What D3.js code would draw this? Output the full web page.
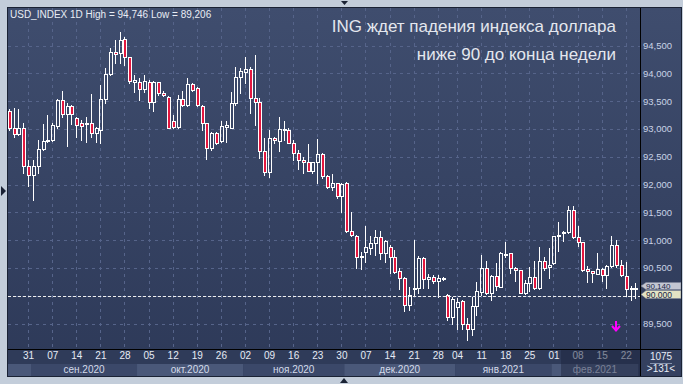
<!DOCTYPE html>
<html>
<head>
<meta charset="utf-8">
<script src="https://cdn.jsdelivr.net/npm/d3@7"></script>
<style>
  body { margin: 0; background: #c3cdda; }
  svg { display: block; font-family: "Liberation Sans", Arial, sans-serif; }
</style>
</head>
<body>
<svg id="chart" width="683" height="384"></svg>
<script>
// daily candles, 25.08.2020 - 24.02.2021 (131 bars)
const firstDay = "2020-08-25";
const lastDay = "2021-02-24";
const holidays = ["2021-01-01"];

const opens = [93.33,93.01,92.90,93.01,92.33,92.17,92.33,92.63,92.78,92.80,
  93.05,93.52,93.26,93.41,93.19,93.10,93.10,93.11,92.92,92.98,
  93.53,93.99,94.38,94.36,94.61,94.29,93.85,93.85,93.71,93.85,
  93.48,93.84,93.64,93.58,93.14,93.04,93.53,93.43,93.80,93.73,
  93.42,93.10,92.65,92.93,92.78,93.04,93.02,93.46,93.93,94.02,
  94.07,93.55,93.48,92.60,92.23,92.84,92.79,92.98,92.98,92.74,
  92.57,92.44,92.40,92.25,92.40,92.54,92.15,91.95,92.02,91.80,
  92.02,91.17,91.08,90.70,90.79,90.86,90.94,91.05,90.77,90.87,
  90.69,90.44,90.31,89.83,90.13,90.13,90.67,90.30,90.34,90.27,
  90.31,90.01,89.61,89.80,89.90,89.50,89.41,89.81,90.07,90.50,
  90.04,90.35,90.16,90.74,90.76,90.49,90.46,90.05,90.22,90.34,
  90.13,90.62,90.51,90.58,91.07,91.13,91.14,91.54,91.05,90.96,
  90.48,90.44,90.39,90.48,90.37,90.54,90.91,90.55,90.35,90.14,
  90.14];
const highs = [93.35,93.37,93.35,93.10,92.44,92.44,92.80,93.08,93.25,93.10,
  93.53,93.69,93.46,93.43,93.22,93.16,93.22,93.63,93.04,93.79,
  94.09,94.45,94.60,94.746,94.65,94.30,93.97,93.91,93.97,93.88,
  93.86,93.85,93.68,93.59,93.25,93.61,93.69,93.91,93.82,93.76,
  93.43,93.11,92.95,92.95,93.14,93.14,93.67,94.11,94.09,94.30,
  94.12,94.33,93.55,92.83,92.98,92.85,93.21,93.15,93.01,92.80,
  92.62,92.50,92.73,92.41,92.81,92.56,92.17,92.19,92.03,92.02,
  92.05,91.50,91.09,90.79,91.25,91.07,91.19,91.16,91.01,90.91,
  90.82,90.50,90.33,90.15,91.01,90.72,90.69,90.39,90.37,90.37,
  90.34,90.03,89.98,89.95,89.93,89.60,89.98,90.25,90.73,90.62,
  90.37,90.58,90.79,90.97,90.77,90.51,90.47,90.28,90.51,90.63,
  90.88,90.69,90.86,91.08,91.32,91.17,91.62,91.62,91.25,90.97,
  90.54,90.45,90.77,90.49,90.55,91.07,91.00,90.65,90.60,90.17,
  90.23];
const lows = [92.98,92.86,92.89,92.20,91.98,91.72,92.20,92.62,92.76,92.79,
  93.01,93.22,92.70,93.08,92.86,92.80,92.77,92.86,92.76,92.75,
  93.46,93.97,94.19,94.19,94.15,93.82,93.67,93.52,93.67,93.37,
  93.33,93.61,93.59,93.01,93.01,93.02,93.41,93.41,93.68,93.41,
  92.98,92.46,92.62,92.72,92.76,92.77,93.01,93.43,93.65,93.82,
  93.29,93.07,92.47,92.17,92.13,92.74,92.61,92.80,92.74,92.44,
  92.27,92.21,92.25,92.20,92.02,92.11,91.93,91.90,91.75,91.50,
  91.15,91.07,90.49,90.48,90.60,90.75,90.73,90.66,90.61,90.40,
  90.40,90.12,89.73,89.74,90.00,90.04,90.13,90.13,90.22,89.97,
  90.28,89.56,89.49,89.41,89.41,89.206,89.29,89.65,90.01,90.03,
  89.92,90.10,90.15,90.70,90.40,90.27,90.04,90.03,90.09,90.12,
  90.12,90.47,90.32,90.57,90.80,90.98,91.12,91.03,90.90,90.45,
  90.25,90.25,90.39,90.27,90.13,90.52,90.52,90.36,89.99,89.93,
  89.95];
const closes = [93.01,92.90,93.01,92.33,92.17,92.33,92.63,92.78,92.80,93.07,
  93.52,93.26,93.41,93.26,93.07,93.05,93.11,92.92,93.01,93.53,
  93.99,94.38,94.34,94.60,94.29,93.87,93.88,93.71,93.86,93.48,
  93.85,93.64,93.61,93.01,93.04,93.53,93.43,93.80,93.70,93.43,
  93.10,92.65,92.93,92.74,93.06,93.07,93.46,93.93,94.05,94.07,
  93.55,93.48,92.60,92.23,92.84,92.80,92.99,92.99,92.75,92.57,
  92.44,92.40,92.25,92.40,92.54,92.15,91.95,92.02,91.80,92.01,
  91.17,91.09,90.69,90.71,90.87,90.94,91.05,90.76,90.98,90.69,
  90.43,90.31,89.83,90.01,90.14,90.67,90.30,90.33,90.27,90.31,
  90.32,89.61,89.94,89.88,89.49,89.41,89.81,90.09,90.50,90.04,
  90.35,90.17,90.76,90.75,90.49,90.46,90.05,90.23,90.34,90.13,
  90.63,90.49,90.55,91.07,91.10,91.14,91.54,91.05,90.96,90.47,
  90.44,90.40,90.48,90.37,90.54,90.92,90.56,90.37,90.12,90.14,
  90.14];

const priceTicks = [89.5, 90, 90.5, 91, 91.5, 92, 92.5, 93, 93.5, 94, 94.5];
const levelPrice = 90.0;
const signal = { bar: 126, price: 89.46 };
const monthNames = ["янв.", "фев.", "мар.", "апр.", "мая", "июн.", "июл.", "авг.", "сен.", "окт.", "ноя.", "дек."];
const headerText = "USD_INDEX 1D High = 94,746 Low = 89,206";
const titleLines = ["ING ждет падения индекса доллара", "ниже 90 до конца недели"];
const barInfo = ["1075", ">131<"];

// trading days
const parse = d3.timeParse("%Y-%m-%d");
const fmtDay = d3.timeFormat("%Y-%m-%d");
const dates = d3.timeDay.range(parse(firstDay), d3.timeDay.offset(parse(lastDay), 1))
  .filter(d => d.getDay() !== 0 && d.getDay() !== 6 && !holidays.includes(fmtDay(d)));

const bars = dates.map((d, i) => ({ date: d, o: opens[i], h: highs[i], l: lows[i], c: closes[i] }));

const svg = d3.select("#chart");
const plotLeft = 8, plotRight = 640, plotTop = 8, plotBottom = 349, axisBottom = 376, panelRight = 681;

const x = d3.scaleBand().domain(dates).range([6.9, 638.3]);
const y = d3.scaleLinear().domain([89.5, 94.5]).range([323.5, 45.5]);
const cx = d => Math.round(x(d) + x.bandwidth() / 2 - 0.5) + 0.5;
const py = v => Math.round(y(v)) + 0.5;
const priceFmt = v => d3.format(".3f")(v).replace(".", ",");

// backgrounds
const defs = svg.append("defs");
const grad = defs.append("linearGradient").attr("id", "bg").attr("x1", 0).attr("x2", 0).attr("y1", 0).attr("y2", 1);
grad.append("stop").attr("offset", "0%").attr("stop-color", "#3f4d6e");
grad.append("stop").attr("offset", "100%").attr("stop-color", "#2d3958");
defs.append("clipPath").attr("id", "plotclip").append("rect")
  .attr("x", plotLeft).attr("y", plotTop).attr("width", plotRight - plotLeft).attr("height", plotBottom - plotTop);

svg.append("rect").attr("width", 683).attr("height", 384).attr("fill", "#c3cdda");
svg.append("rect").attr("x", plotLeft).attr("y", plotTop).attr("width", panelRight - plotLeft).attr("height", axisBottom - plotTop)
  .attr("fill", "url(#bg)");
svg.append("rect").attr("x", plotLeft).attr("y", plotBottom).attr("width", plotRight - plotLeft).attr("height", axisBottom - plotBottom)
  .attr("fill", "#2f3b59");
svg.append("rect").attr("x", plotRight).attr("y", plotBottom).attr("width", panelRight - plotRight).attr("height", axisBottom - plotBottom)
  .attr("fill", "#34405f");

// gridlines
const mondays = dates.filter(d => d.getDay() === 1);
const grid = svg.append("g").attr("stroke", "#56648a").attr("stroke-dasharray", "3,4").attr("stroke-width", 1);
grid.selectAll(".hg").data(priceTicks).join("line")
  .attr("x1", plotLeft).attr("x2", plotRight).attr("y1", d => py(d)).attr("y2", d => py(d));
grid.selectAll(".vg").data(mondays).join("line")
  .attr("x1", d => cx(d)).attr("x2", d => cx(d)).attr("y1", plotTop).attr("y2", plotBottom);

// candles
const plot = svg.append("g").attr("clip-path", "url(#plotclip)");
const candle = plot.selectAll("g.candle").data(bars).join("g").attr("class", "candle");
candle.append("line")
  .attr("x1", d => cx(d.date)).attr("x2", d => cx(d.date))
  .attr("y1", d => Math.round(y(d.h))).attr("y2", d => Math.round(y(Math.max(d.o, d.c))))
  .attr("stroke", "#ffffff");
candle.append("line")
  .attr("x1", d => cx(d.date)).attr("x2", d => cx(d.date))
  .attr("y1", d => Math.round(y(Math.min(d.o, d.c)))).attr("y2", d => Math.round(y(d.l)) + 1)
  .attr("stroke", "#ffffff");
candle.append("rect")
  .attr("x", d => cx(d.date) - 1)
  .attr("y", d => Math.round(y(Math.max(d.o, d.c))) + 0.5)
  .attr("width", 3)
  .attr("height", d => Math.max(1, Math.round(y(Math.min(d.o, d.c))) - Math.round(y(Math.max(d.o, d.c)))))
  .attr("fill", d => d.c < d.o ? "#e3173f" : "none")
  .attr("stroke", "#ffffff").attr("stroke-width", 1);

// 90,000 level
svg.append("line").attr("x1", plotLeft).attr("x2", plotRight).attr("y1", py(levelPrice)).attr("y2", py(levelPrice))
  .attr("stroke", "#eeeeee").attr("stroke-dasharray", "3,2");

// signal arrow
const ax = cx(dates[signal.bar]) - 0.5, ay = Math.round(y(signal.price));
const arrow = svg.append("g").attr("stroke", "#ff00ff").attr("stroke-width", 2).attr("fill", "none");
arrow.append("line").attr("x1", ax).attr("x2", ax).attr("y1", ay - 5).attr("y2", ay + 4);
arrow.append("path").attr("d", `M${ax - 4},${ay} L${ax},${ay + 4.5} L${ax + 4},${ay}`);

// header and title
svg.append("text").attr("x", 10).attr("y", 18).attr("font-size", 10).attr("fill", "#e8ecf4").text(headerText);
svg.selectAll(".title").data(titleLines).join("text")
  .attr("x", 616).attr("y", (d, i) => 31.5 + i * 28.5)
  .attr("text-anchor", "end").attr("font-size", 17).attr("fill", "#e4e7ee").text(d => d);

// right axis
svg.append("line").attr("x1", plotRight + 0.5).attr("x2", plotRight + 0.5).attr("y1", plotTop).attr("y2", axisBottom).attr("stroke", "#000");
svg.selectAll(".ptick").data(priceTicks.filter(d => d !== levelPrice)).join("text")
  .attr("x", 643).attr("y", d => y(d) + 3.5)
  .attr("font-size", 9.5).attr("fill", "#c9d3e6").text(priceFmt);

// price tags
const lastClose = closes[closes.length - 1];
const tags = [
  { v: lastClose, yc: 286, h: 7, fs: 8, base: 288.6, fill: "#c2c6d2" },
  { v: levelPrice, yc: 294.5, h: 8, fs: 8.5, base: 297.9, fill: "#e3e3c4" }
];
tags.forEach(t => {
  svg.append("path")
    .attr("d", `M${plotRight + 1},${t.yc} L${plotRight + 6},${t.yc - t.h / 2} L${panelRight},${t.yc - t.h / 2} L${panelRight},${t.yc + t.h / 2} L${plotRight + 6},${t.yc + t.h / 2} Z`)
    .attr("fill", t.fill).attr("stroke", "#7c8498").attr("stroke-width", 0.6);
  svg.append("text").attr("x", plotRight + 6).attr("y", t.base).attr("font-size", t.fs)
    .attr("fill", "#1c2747").text(priceFmt(t.v));
});

// bottom axis
svg.append("line").attr("x1", plotLeft).attr("x2", panelRight).attr("y1", plotBottom + 0.5).attr("y2", plotBottom + 0.5).attr("stroke", "#000");
const months = d3.groups(dates, d => d3.timeMonth.floor(d)).map(([m, ds], i) => ({
  m, x0: x(ds[0]), x1: x(ds[ds.length - 1]) + x.bandwidth(), i
}));
svg.selectAll(".mband").data(months).join("rect")
  .attr("x", d => Math.max(plotLeft, d.x0)).attr("y", 364)
  .attr("width", d => Math.min(plotRight, d.x1) - Math.max(plotLeft, d.x0)).attr("height", axisBottom - 364)
  .attr("fill", d => d.i % 2 === 0 ? "#4a5879" : "#3b4869");
svg.selectAll(".mlabel").data(months.filter(d => d.x1 - d.x0 > 60)).join("text")
  .attr("x", d => (d.x0 + d.x1) / 2).attr("y", 372.5).attr("text-anchor", "middle")
  .attr("font-size", 10).attr("fill", "#d4dbea")
  .text(d => monthNames[d.m.getMonth()] + d.m.getFullYear());

const xAxis = d3.axisBottom(x).tickValues(mondays).tickFormat(d3.timeFormat("%d")).tickSize(0).tickPadding(0);
const gx = svg.append("g").attr("transform", `translate(0,352)`).call(xAxis);
gx.select(".domain").remove();
gx.selectAll("text").attr("font-size", 10).attr("fill", "#e6ebf5").attr("dy", "0.71em")
  .attr("font-family", "Liberation Sans, Arial, sans-serif");

// dimmed scroll area
svg.append("rect").attr("x", 561).attr("y", plotBottom + 1).attr("width", plotRight - 561).attr("height", axisBottom - plotBottom - 1)
  .attr("fill", "#1e2640").attr("opacity", 0.5);

// bar count box
svg.append("text").attr("x", 661).attr("y", 360).attr("text-anchor", "middle").attr("font-size", 10)
  .attr("fill", "#e6ebf5").text(barInfo[0]);
svg.append("line").attr("x1", 650).attr("x2", 672).attr("y1", 363.5).attr("y2", 363.5).attr("stroke", "#8592ad");
svg.append("text").attr("x", 661).attr("y", 372).attr("text-anchor", "middle").attr("font-size", 10)
  .attr("fill", "#e6ebf5").text(barInfo[1]);

// panel border and markers
svg.append("rect").attr("x", plotLeft - 0.5).attr("y", plotTop - 0.5).attr("width", panelRight - plotLeft + 1).attr("height", axisBottom - plotTop + 1)
  .attr("fill", "none").attr("stroke", "#1a2234");
svg.append("path").attr("d", "M341,1 L348,1 L344.5,5 Z").attr("fill", "#1a2234");
svg.append("path").attr("d", "M340,383 L348,383 L344,378 Z").attr("fill", "#1a2234");
svg.append("path").attr("d", "M1,186 L6,191 L1,196 Z").attr("fill", "#1a2234");
</script>
</body>
</html>
